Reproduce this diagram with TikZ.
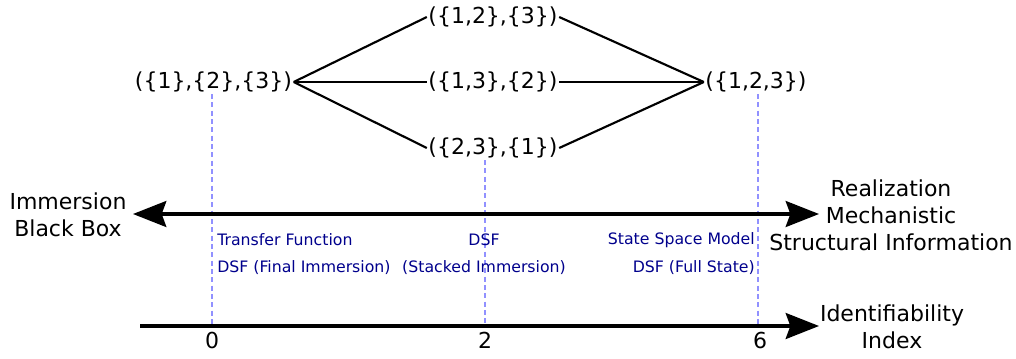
\documentclass[tikz,border=0pt]{standalone}
\usepackage{fontspec}
\setmainfont{DejaVu Sans}
\usetikzlibrary{arrows.meta}
\definecolor{navyblue}{RGB}{0,0,140}
\definecolor{dashblue}{RGB}{145,145,255}
\tikzset{
  part/.style={font=\fontsize{16.5}{20.3}\selectfont, inner sep=1pt},
  lbl/.style={font=\fontsize{16.5}{20.3}\selectfont, align=center, inner sep=0pt},
  blu/.style={font=\fontsize{11.8}{14}\selectfont, text=navyblue, inner sep=0pt},
  edge/.style={line width=1.6pt},
  guide/.style={dashblue, line width=2pt, dash pattern=on 3.75pt off 2.5pt},
  axis/.style={line width=2.3pt, >={Stealth[length=25pt,width=19.5pt,inset=3.5pt]}}
}
\begin{document}
\begin{tikzpicture}[x=0.75pt,y=-0.75pt]
\useasboundingbox (0,0) rectangle (1016,358);
% guides
\coordinate (g0t) at (212,94);
\coordinate (g0b) at (212,326);
\coordinate (g2t) at (485,160);
\coordinate (g2b) at (485,326);
\coordinate (g6t) at (758,94);
\coordinate (g6b) at (758,326);
\draw[guide] (g0t) -- (g0b);
\draw[guide] (g2t) -- (g2b);
\draw[guide] (g6t) -- (g6b);
% lattice
\node[part] (p0) at (213.5,82) {(\{1\},\{2\},\{3\})};
\node[part] (p12) at (493,17) {(\{1,2\},\{3\})};
\node[part] (p13) at (493,82) {(\{1,3\},\{2\})};
\node[part] (p23) at (493,148) {(\{2,3\},\{1\})};
\node[part] (p123) at (756,82) {(\{1,2,3\})};
\draw[edge] (p0.east) -- (p12.west);
\draw[edge] (p0.east) -- (p13.west);
\draw[edge] (p0.east) -- (p23.west);
\draw[edge] (p12.east) -- (p123.west);
\draw[edge] (p13.east) -- (p123.west);
\draw[edge] (p23.east) -- (p123.west);
% top axis
\coordinate (tl) at (133,214);
\coordinate (tr) at (819,214);
\draw[axis, <->] (tl) -- (tr);
\node[lbl] (imm) at (68,214.5) {Immersion\\Black Box};
\node[lbl] (real) at (891,215.5) {Realization\\Mechanistic\\Structural Information};
% blue labels
\node[blu, anchor=west] (tf) at (217,240) {Transfer Function};
\node[blu, anchor=west] (dfi) at (217,268) {DSF (Final Immersion)};
\node[blu] (dsf) at (484,240) {DSF};
\node[blu] (dsi) at (484,268) {(Stacked Immersion)};
\node[blu, anchor=east] (ssm) at (755,240) {State Space Model};
\node[blu, anchor=east] (dfs) at (755,268) {DSF (Full State)};
% bottom axis
\coordinate (bl) at (140,326);
\coordinate (br) at (819,326);
\draw[axis, ->] (bl) -- (br);
\node[lbl] (n0) at (212,340) {0};
\node[lbl] (n2) at (485,340) {2};
\node[lbl] (n6) at (760,340) {6};
\node[lbl] (idx) at (892,327) {Identifiability\\Index};
\end{tikzpicture}
\end{document}
